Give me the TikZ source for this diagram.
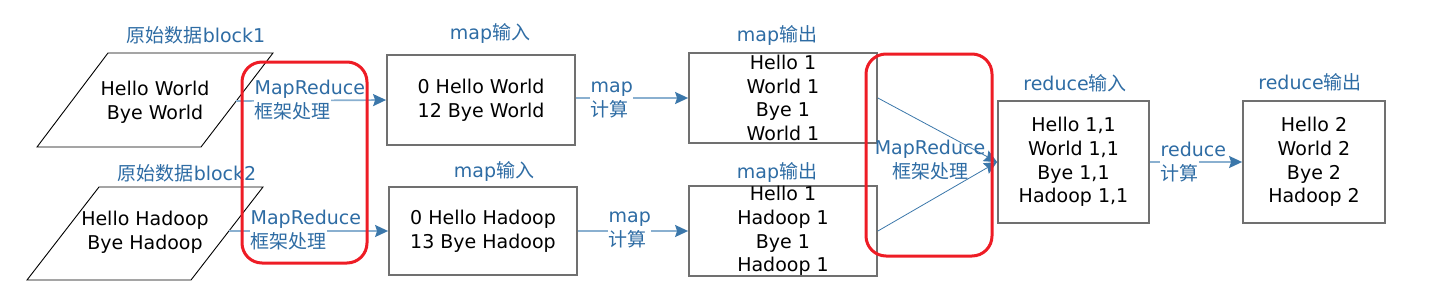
\documentclass[tikz,border=0pt]{standalone}
\usepackage{fontspec}
\setmainfont{DejaVu Sans}
\newfontfamily\cjk{Noto Sans CJK SC}
\usetikzlibrary{arrows.meta}
\definecolor{lblue}{HTML}{2E6CA4}
\definecolor{lineblue}{HTML}{8AB0D0}
\definecolor{tipblue}{HTML}{3B77AA}
\definecolor{boxgray}{HTML}{707070}
\definecolor{hired}{HTML}{EE1C25}
\begin{document}
\begin{tikzpicture}[x=1pt,y=-1pt,
  every node/.style={font=\fontsize{19}{23.7}\selectfont},
  databox/.style={draw=boxgray, line width=1.8pt, inner sep=0pt, align=center},
  para/.style={draw=black, line width=0.9pt},
  title/.style={text=lblue},
  flow/.style={draw=lineblue, line width=1.7pt, -{Stealth[length=13pt,width=12pt,inset=2pt,color=tipblue]}},
  merge/.style={draw=tipblue, line width=0.8pt, -{Stealth[length=13pt,width=12pt,inset=2pt,color=tipblue]}},
  steplabel/.style={text=lblue, fill=white, inner sep=0.5pt, align=left, anchor=west},
  highlight/.style={draw=hired, line width=3pt, rounded corners=20pt}
]
\useasboundingbox (0,0) rectangle (1434,300);

% raw data blocks
\draw[para] (108,53) -- (273,53) -- (201,147) -- (37,147) -- cycle;
\node[align=center] (p1) at (155,102) {Hello World\\Bye World};
\coordinate (p1e) at (236.2,101);
\node[title] (t1) at (196,35) {{\cjk 原始数据}block1};

\draw[para] (99,187) -- (263,187) -- (191,280) -- (27,280) -- cycle;
\node[align=center] (p2) at (145,232) {Hello Hadoop\\Bye Hadoop};
\coordinate (p2e) at (228.9,231);
\node[title] (t2) at (187,173) {{\cjk 原始数据}block2};

% map input
\node[databox, minimum width=188pt, minimum height=90pt] (mi1) at (481,100) {0 Hello World\\12 Bye World};
\node[title] (tmi1) at (490,33) {map{\cjk 输入}};
\node[databox, minimum width=188pt, minimum height=88pt] (mi2) at (483,231) {0 Hello Hadoop\\13 Bye Hadoop};
\node[title] (tmi2) at (494,171) {map{\cjk 输入}};

% map output
\node[databox, minimum width=188pt, minimum height=90pt] (mo1) at (783,98) {Hello 1\\World 1\\Bye 1\\World 1};
\node[title] (tmo1) at (777,35) {map{\cjk 输出}};
\node[databox, minimum width=188pt, minimum height=88pt] (mo2) at (783,231) {Hello 1\\Hadoop 1\\Bye 1\\Hadoop 1};
\node[title] (tmo2) at (777,172) {map{\cjk 输出}};

% reduce
\node[databox, minimum width=151pt, minimum height=122pt] (ri) at (1073.5,162) {Hello 1,1\\World 1,1\\Bye 1,1\\Hadoop 1,1};
\node[title] (tri) at (1075,83) {reduce{\cjk 输入}};
\node[databox, minimum width=142pt, minimum height=122pt] (ro) at (1314,162) {Hello 2\\World 2\\Bye 2\\Hadoop 2};
\node[title] (tro) at (1310,82) {reduce{\cjk 输出}};

% connectors
\draw[flow] (p1e) -- (mi1.west);
\node[steplabel] (l1) at (254,100) {\rlap{MapReduce}\\{\cjk 框架处理}};
\draw[flow] (p2e) -- (mi2.west);
\node[steplabel] (l2) at (250,230) {\rlap{MapReduce}\\{\cjk 框架处理}};

\draw[flow] (mi1.east |- mo1.west) -- (mo1.west);
\node[steplabel] (l3) at (590,100) {map\\{\cjk 计算}};
\draw[flow] (mi2.east) -- (mo2.west);
\node[steplabel] (l4) at (608,230) {map\\{\cjk 计算}};

\node[text=lblue, align=center] (l5) at (930,160) {MapReduce\\{\cjk 框架处理}};
\draw[merge] (mo1.east) -- (ri.west);
\draw[merge] (mo2.east) -- (ri.west);

\draw[flow] (ri.east) -- (ro.west);
\node[steplabel] (l6) at (1160,162) {\rlap{reduce}\\{\cjk 计算}};

% highlights
\draw[highlight] (242,62) rectangle (367,263);
\draw[highlight] (866,54) rectangle (992,256);
\end{tikzpicture}
\end{document}
